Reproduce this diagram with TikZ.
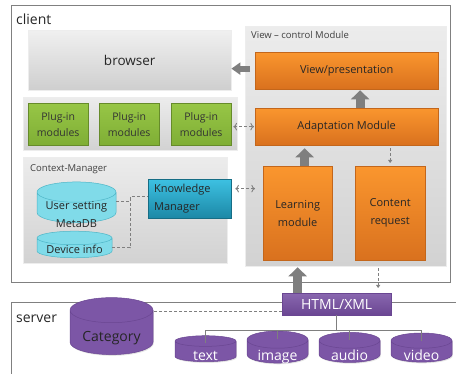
\documentclass[tikz,border=0pt]{standalone}
\usepackage{fontspec}
\setmainfont{Open Sans}
\usetikzlibrary{arrows.meta,shapes.geometric,shadows}

\definecolor{framegray}{HTML}{808080}
\definecolor{arrowgray}{HTML}{7F7F7F}
\definecolor{paneltop}{HTML}{ECECEC}
\definecolor{panelbot}{HTML}{D2D2D2}
\definecolor{orangetop}{HTML}{FA962E}
\definecolor{orangebot}{HTML}{D9711E}
\definecolor{greentop}{HTML}{97C646}
\definecolor{greenbot}{HTML}{7FAE35}
\definecolor{cyanfill}{HTML}{80DBE9}
\definecolor{cyanedge}{HTML}{4DB6C7}
\definecolor{kmtop}{HTML}{3DC1E2}
\definecolor{kmbot}{HTML}{1C88A6}
\definecolor{srvpurple}{HTML}{7C56A6}
\definecolor{srvpurpledark}{HTML}{6A4692}

% cylinder label: small reported box so the can keeps its size,
% baseline sunk #1 below the centre
\newcommand{\dblabel}[2][5pt]{\raisebox{-#1}[3pt][3pt]{#2}}

\begin{document}
\begin{tikzpicture}[
    x=1pt, y=-1pt,
    softshadow/.style={drop shadow={opacity=0.22, shadow xshift=0.8pt, shadow yshift=-1.2pt}},
    zone/.style={draw=framegray, line width=0.8pt, anchor=north west, inner sep=0pt},
    zonelabel/.style={anchor=base west, inner sep=0pt, font=\fontsize{14}{16}\selectfont, text=black!85},
    panel/.style={draw=white!93!black, top color=paneltop, bottom color=panelbot, anchor=north west, inner sep=0pt, softshadow},
    panellabel/.style={anchor=base west, inner sep=0pt, font=\fontsize{9.5}{11}\selectfont, text=black!75},
    orangebox/.style={draw=orangebot!90!black, line width=0.3pt, top color=orangetop, bottom color=orangebot, anchor=north west, inner sep=0pt, align=center, text=black!85, font=\fontsize{11}{18}\selectfont, softshadow},
    plugbox/.style={draw=greenbot!80!black, line width=0.4pt, top color=greentop, bottom color=greenbot, anchor=north west, inner sep=0pt, align=center, minimum width=60pt, minimum height=42pt, text=black!80, font=\fontsize{10.5}{16}\selectfont, softshadow},
    db/.style={cylinder, shape border rotate=90, draw=cyanedge, line width=0.5pt, fill=cyanfill, inner sep=0pt, text=black!85, font=\fontsize{11}{18}\selectfont},
    srvdb/.style={cylinder, shape border rotate=90, draw=srvpurpledark, line width=0.5pt, fill=srvpurple, inner sep=0pt, aspect=0.43, minimum width=61pt, minimum height=26pt, text=white, font=\fontsize{14}{16}\selectfont, softshadow},
    bigarrow/.style={draw=arrowgray, line width=9pt, -{Triangle[width=18pt, length=9pt]}},
    dashlink/.style={draw=arrowgray, densely dashed, line width=0.9pt, -{Triangle[width=4pt, length=3pt]}},
    dashline/.style={draw=arrowgray, densely dashed, line width=1pt},
    treeline/.style={draw=arrowgray, line width=1.2pt}
]
\useasboundingbox (0,0) rectangle (456,374);

% client and server frames
\node[zone, minimum width=439pt, minimum height=277pt] (client) at (11,5) {};
\node[zonelabel] (clientlabel) at (16,25) {client};
\node[zone, minimum width=450pt, minimum height=80pt] (server) at (11,302) {};
\node[zonelabel] (serverlabel) at (16,323) {server};

% browser and plug-ins
\node[panel, top color=white!94!black, bottom color=white!81!black, minimum width=203pt, minimum height=60pt, font=\fontsize{13.5}{16}\selectfont, text=black!85] (browser) at (28,30) {browser};
\node[panel, minimum width=214pt, minimum height=53pt] (plugpanel) at (23,97) {};
\node[plugbox] (plug1) at (28,103) {Plug-in\\modules};
\node[plugbox] (plug2) at (99,103) {Plug-in\\modules};
\node[plugbox] (plug3) at (171,103) {Plug-in\\modules};

% context manager
\node[panel, minimum width=204pt, minimum height=106pt] (ctxpanel) at (23,157) {};
\node[panellabel] (ctxlabel) at (30,172) {Context-Manager};
\node[db, aspect=0.33, minimum width=79pt, minimum height=32.5pt] (user) at (76.5,207.5)
    {\raisebox{-10pt}[5pt][5pt]{\begin{tabular}{@{}c@{}}User setting\\MetaDB\end{tabular}}};
\node[db, aspect=0.24, minimum width=75pt, minimum height=17.5pt] (device) at (74.5,248) {\dblabel[6pt]{Device info}};
\node[draw=kmbot!80!black, line width=0.3pt, top color=kmtop, bottom color=kmbot, anchor=north west,
      minimum width=83pt, minimum height=39pt, text width=71pt, inner xsep=6pt, inner ysep=0pt,
      align=left, text=black!85, font=\fontsize{11}{18}\selectfont, softshadow] (km) at (148,179) {Knowledge\\Manager};
\coordinate (ctxbus) at (130,197);
\draw[dashline] ([yshift=6pt]user.east) -| (ctxbus) -- (ctxbus -| km.west);
\draw[dashline] (device.east) -| (ctxbus);

% view - control module
\node[panel, minimum width=201pt, minimum height=240pt] (vcpanel) at (245,26) {};
\node[panellabel] (vclabel) at (251,39) {View -- control Module};
\node[orangebox, minimum width=183pt, minimum height=37pt] (view) at (255,52) {View/presentation};
\node[orangebox, minimum width=183pt, minimum height=37pt] (adapt) at (255,108) {Adaptation Module};
\node[orangebox, minimum width=69pt, minimum height=94pt] (learn) at (263,166) {Learning\\module};
\node[orangebox, minimum width=70pt, minimum height=94pt] (content) at (355,166) {Content\\request};

% server side
\node[draw=srvpurpledark, line width=0.4pt, top color=srvpurple!90!white, bottom color=srvpurpledark, anchor=north west,
      minimum width=109pt, minimum height=22pt, inner sep=0pt, text=white, font=\fontsize{14}{16}\selectfont, softshadow] (html) at (282,293) {HTML/XML};
\node[srvdb, minimum width=83pt, minimum height=57pt, text=black!85] (cat) at (111.5,332.5) {\dblabel[9.5pt]{Category}};
\foreach \media/\word/\xpos in {txt/text/205.5, img/image/277.5, aud/audio/349.5, vid/video/421.5}
    \node[srvdb] (\media) at (\xpos,351.5) {\dblabel[9pt]{\word}};

% connectors
\draw[bigarrow, line width=6pt, -{Triangle[width=12pt, length=9pt]}, shorten <=5pt] ([yshift=2pt]view.west) -- ([yshift=2pt]view.west -| browser.east);
\draw[bigarrow, shorten >=1pt] ([xshift=13.5pt]adapt.north) -- ([xshift=13.5pt]view.south);
\draw[bigarrow, shorten >=3pt] ([xshift=7pt]learn.north) -- ([xshift=7pt]learn.north |- adapt.south);
\draw[bigarrow, shorten >=7pt] (learn.south |- html.north) -- (learn.south);
\draw[dashlink, <->, shorten <=2pt, shorten >=1pt] (plug3.east |- adapt.west) -- (adapt.west);
\draw[dashlink, <->, shorten <=4pt, shorten >=8pt] ([yshift=10pt]km.east) -- ([yshift=10pt]km.east -| learn.west);
\draw[dashlink, shorten <=3pt, shorten >=3pt] (adapt.south -| content.north) -- (content.north);
\draw[dashlink, shorten <=8pt, shorten >=5pt] ([xshift=-12pt]content.south) -- ([xshift=-12pt]content.south |- html.north);
\draw[dashline] ([yshift=-7pt]html.west) -- ([yshift=-7pt]html.west -| cat.east);
\foreach \media in {txt,img,aud,vid}
    \draw[treeline] (html.south) -- ++(0,15) -| ([yshift=-8pt]\media.north);
\end{tikzpicture}
\end{document}
